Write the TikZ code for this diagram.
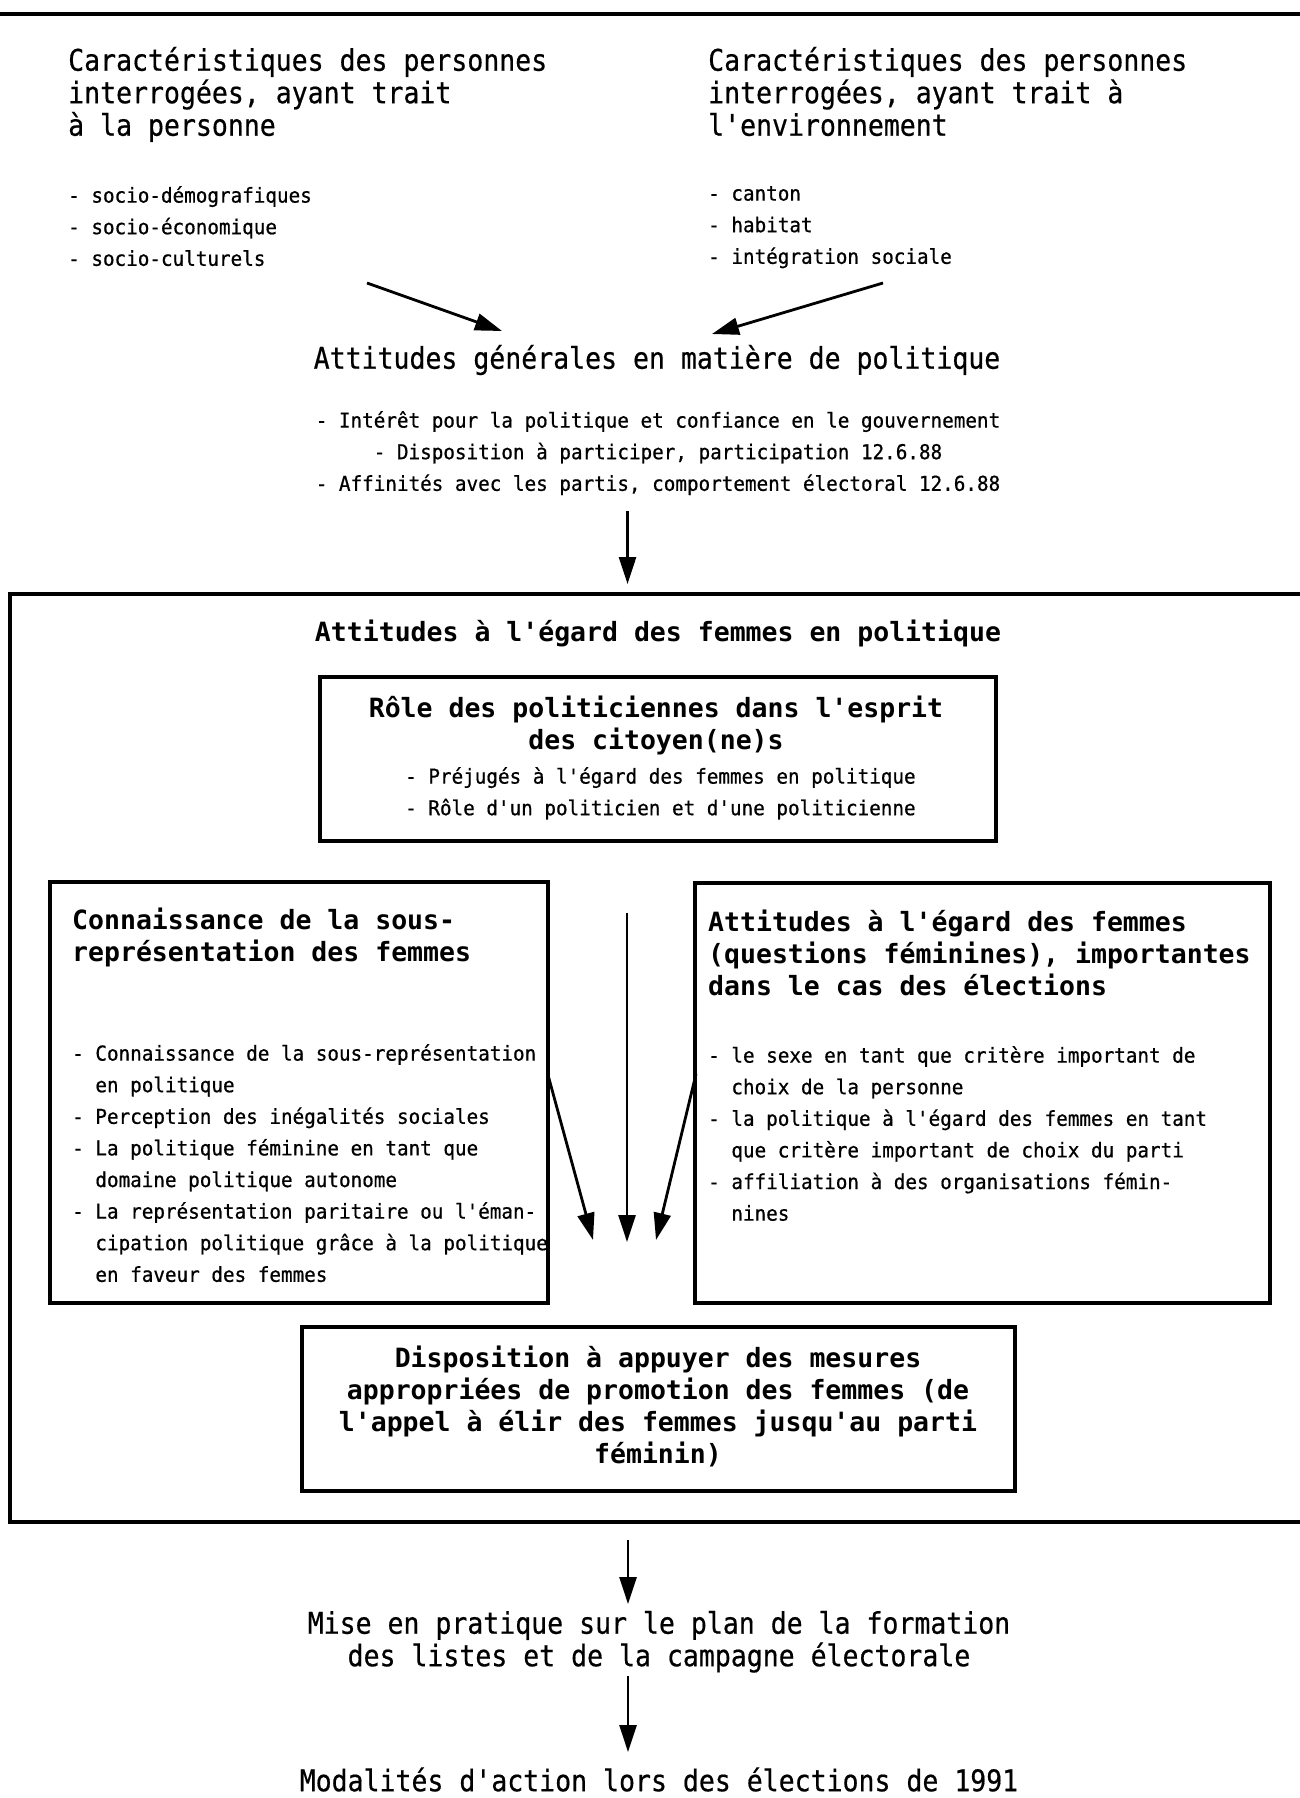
\documentclass[tikz,border=0pt]{standalone}
\usepackage{fontspec}
\usetikzlibrary{arrows.meta}
\newfontfamily\bigfam[FakeStretch=0.89,FakeBold=0.5,Ligatures=TeXOff]{DejaVu Sans Mono}
\newfontfamily\smallfam[FakeStretch=0.94,FakeBold=0.7,Ligatures=TeXOff]{DejaVu Sans Mono}
\newfontfamily\boldfam[Ligatures=TeXOff]{DejaVu Sans Mono}
\newcommand\ind{\hspace*{23.2pt}}
\begin{document}
\begin{tikzpicture}[x=1pt,y=-1pt,
  bigtext/.style={font=\bigfam\fontsize{29.8}{32.5}\selectfont, inner sep=0pt, yshift=25.3pt,
     execute at begin node={\rule{0pt}{29.8pt}}},
  boldtext/.style={font=\boldfam\bfseries\fontsize{26.5}{32}\selectfont, inner sep=0pt, yshift=22pt,
     execute at begin node={\rule{0pt}{26.5pt}}},
  smalltext/.style={font=\smallfam\fontsize{20.5}{31.6}\selectfont, inner sep=0pt, yshift=16pt,
     execute at begin node={\rule{0pt}{20.5pt}}},
  tl/.style={anchor=north west, align=left},
  tc/.style={anchor=north, align=center},
  boxn/.style={draw, line width=3.2pt, inner sep=0pt, rectangle},
  arr/.style={line width=2.8pt, -{Triangle[length=27pt,width=17pt]}},
  rule/.style={line width=3.2pt}]
\useasboundingbox (0,0) rectangle (1300,1798);
\fill[white] (0,0) rectangle (1300,1798);
\clip (0,0) rectangle (1300,1798);

% top rule
\coordinate (tr1) at (-5,14);
\coordinate (tr2) at (1305,14);
\draw[rule] (tr1) -- (tr2);

% headers
\node[bigtext,tl] (hl) at (68,72) {Caractéristiques des personnes\\interrogées, ayant trait\\à la personne};
\node[bigtext,tl] (hr) at (708,72) {Caractéristiques des personnes\\interrogées, ayant trait à\\l'environnement};
\node[smalltext,tl] (ll) at (68,202) {- socio-démografiques\\- socio-économique\\- socio-culturels};
\node[smalltext,tl] (lr) at (708,202) {- canton\\- habitat\\- intégration sociale};

% general attitudes
\node[bigtext,tc] (gen) at (657,364) {Attitudes générales en matière de politique};
\node[smalltext,tc] (genl) at (658,427) {- Intérêt pour la politique et confiance en le gouvernement\\- Disposition à participer, participation 12.6.88\\- Affinités avec les partis, comportement électoral 12.6.88};

\coordinate (a1s) at (367,283); \coordinate (a1e) at (502,331);
\coordinate (a2s) at (883,283); \coordinate (a2e) at (712,334);
\coordinate (a3s) at (627.5,511); \coordinate (a3e) at (627.5,584);
\draw[arr] (a1s) -- (a1e);
\draw[arr] (a2s) -- (a2e);
\draw[arr] (a3s) -- (a3e);

% outer box (open to the right)
\coordinate (ob1) at (1310,594);
\coordinate (ob2) at (10,594);
\coordinate (ob3) at (10,1522);
\coordinate (ob4) at (1310,1522);
\draw[rule, line join=miter] (ob1) -- (ob2) -- (ob3) -- (ob4);
\node[boldtext,tc] (femt) at (658,637) {Attitudes à l'égard des femmes en politique};

% role box
\node[boxn, minimum width=676pt, minimum height=164pt] (role) at (658,759) {};
\node[boldtext,tc] (rolet) at (656,718) {Rôle des politiciennes dans l'esprit\\des citoyen(ne)s};
\node[smalltext,tl] (rolel) at (405,783) {- Préjugés à l'égard des femmes en politique\\- Rôle d'un politicien et d'une politicienne};

% connaissance box
\node[boxn, minimum width=498pt, minimum height=421pt] (conn) at (299,1092.5) {};
\node[boldtext,tl] (connt) at (72,930) {Connaissance de la sous-\\représentation des femmes};
\node[smalltext,tl] (connl) at (72,1060) {- Connaissance de la sous-représentation\\\ind en politique\\- Perception des inégalités sociales\\- La politique féminine en tant que\\\ind domaine politique autonome\\- La représentation paritaire ou l'éman-\\\ind cipation politique grâce à la politique\\\ind en faveur des femmes};

% attitudes box
\node[boxn, minimum width=575pt, minimum height=420pt] (att) at (982.5,1093) {};
\node[boldtext,tl] (attt) at (708,932) {Attitudes à l'égard des femmes\\(questions féminines), importantes\\dans le cas des élections};
\node[smalltext,tl] (attl) at (708,1062) {- le sexe en tant que critère important de\\\ind choix de la personne\\- la politique à l'égard des femmes en tant\\\ind que critère important de choix du parti\\- affiliation à des organisations fémin-\\\ind nines};

% middle arrows
\coordinate (m1s) at (548,1075); \coordinate (m1e) at (593,1240);
\coordinate (m2s) at (627,913);  \coordinate (m2e) at (627,1242);
\coordinate (m3s) at (696,1074); \coordinate (m3e) at (656,1240);
\draw[arr] (m1s) -- (m1e);
\draw[arr] (m2s) -- (m2e);
\draw[arr] (m3s) -- (m3e);

% disposition box
\node[boxn, minimum width=713pt, minimum height=164pt] (disp) at (658.5,1409) {};
\node[boldtext,tc] (dispt) at (658,1368) {Disposition à appuyer des mesures\\appropriées de promotion des femmes (de\\l'appel à élir des femmes jusqu'au parti\\féminin)};

% bottom
\coordinate (a4s) at (628,1540); \coordinate (a4e) at (628,1604);
\draw[arr] (a4s) -- (a4e);
\node[bigtext,tc] (mise) at (659,1636) {Mise en pratique sur le plan de la formation\\des listes et de la campagne électorale};
\coordinate (a5s) at (628,1676); \coordinate (a5e) at (628,1752);
\draw[arr] (a5s) -- (a5e);
\node[bigtext,tc] (moda) at (659,1786.5) {Modalités d'action lors des élections de 1991};
\end{tikzpicture}
\end{document}
